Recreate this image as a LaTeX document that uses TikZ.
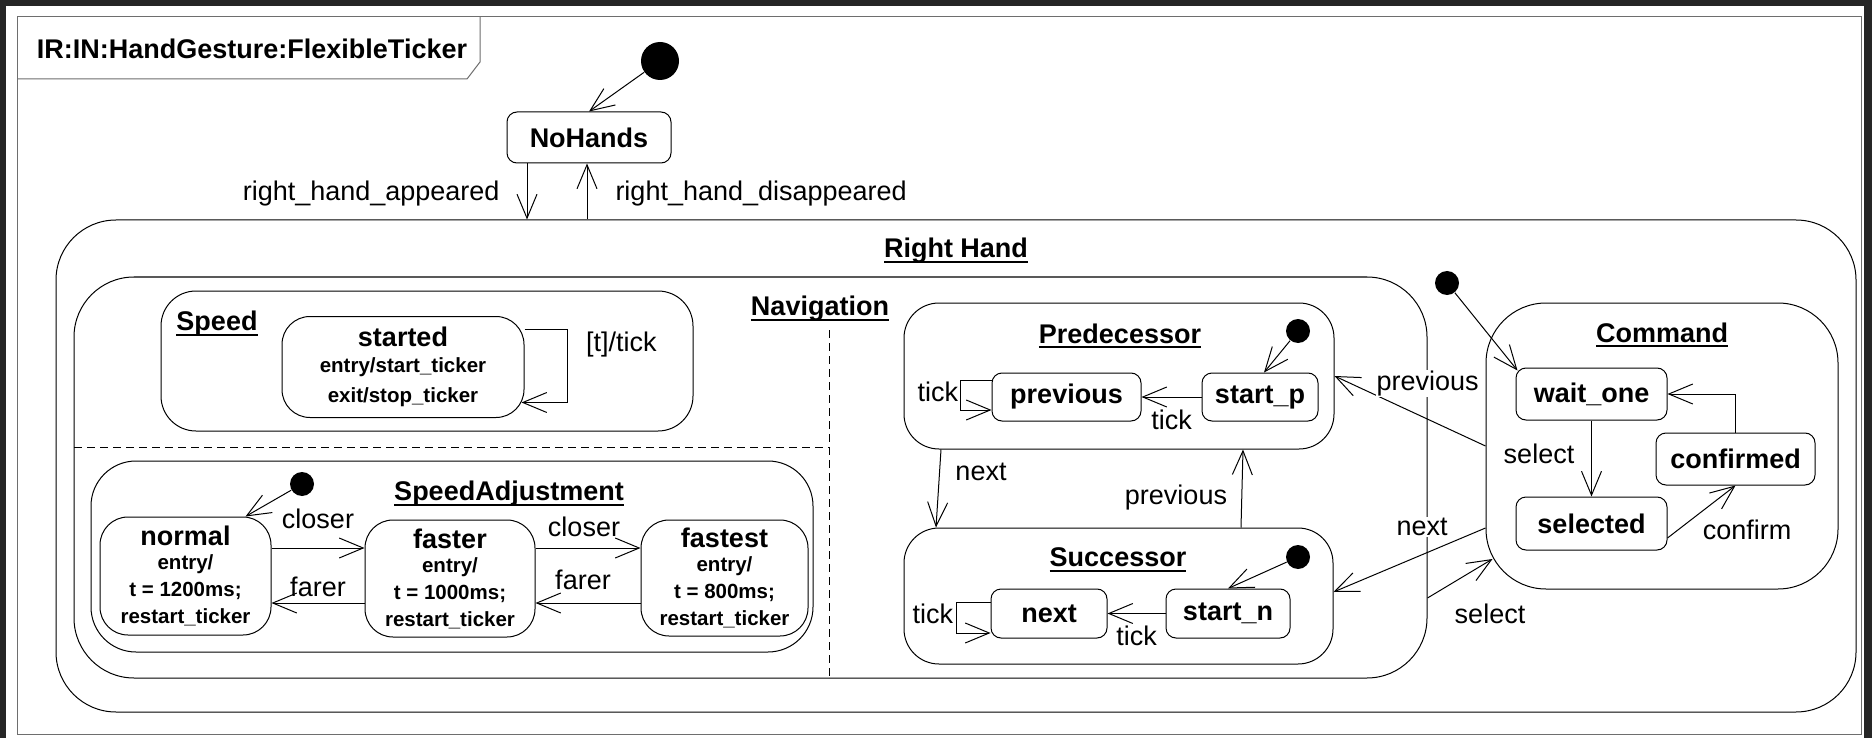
\documentclass[tikz,border=0pt]{standalone}
\usepackage{fontspec}
\setmainfont{Liberation Sans}
\usepackage{tikz}
\usetikzlibrary{arrows.meta, positioning, calc}
\definecolor{PageDark}{HTML}{262626}
\definecolor{FrameGray}{HTML}{6E6E6E}
\newcommand{\ulname}[1]{\sbox0{#1}\rlap{\usebox0}\rule[-5pt]{\wd0}{2.2pt}}
\newcommand{\stname}{\fontsize{27}{30}\selectfont}
\tikzset{
  cbox/.style={draw, rounded corners=#1, inner sep=0pt},
  cbox/.default=40pt,
  sbox/.style={draw, rounded corners=10pt, inner sep=2pt,
    font=\bfseries\fontsize{27}{30}\selectfont},
  tbox/.style={draw, rounded corners=28pt, inner sep=2pt, align=center,
    font=\bfseries\fontsize{20.5}{27}\selectfont},
  ctitle/.style={inner sep=1pt, yshift=-3pt, font=\bfseries\fontsize{27}{30}\selectfont},
  lbl/.style={inner sep=1pt, font=\fontsize{27}{30}\selectfont},
  idot/.style={circle, fill=black, inner sep=0pt, minimum size=24pt},
  flow/.style={-{Straight Barb[length=24pt, width=20pt]}, line width=1pt},
  region/.style={dash pattern=on 8pt off 5pt, line width=1pt},
}

\begin{document}
\begin{tikzpicture}[x=1pt, y=-1pt, line width=1pt]
  \useasboundingbox (0,0) rectangle (1872,738);
  \fill[PageDark] (0,0) rectangle (1872,738);
  \fill[white] (6,6) rectangle (1864,738);
  \draw[FrameGray] (17,17) rectangle (1861,734);
  \draw[FrameGray] (17,79) -- (467,79) -- (480,62) -- (480,17);
  \node[ctitle, yshift=2pt] (frametitle) at (252,48) {IR:IN:HandGesture:FlexibleTicker};

  % top level
  \node[idot, minimum size=38pt] (topinit) at (660,61) {};
  \node[sbox, minimum width=164pt, minimum height=51pt] (nohands) at (589,137.5) {NoHands};
  \node[cbox=60pt, minimum width=1800pt, minimum height=492pt] (righthand) at (956,466) {};
  \node[ctitle] (rhtitle) at (956,248) {\ulname{Right Hand}};
  \draw[flow] (topinit) -- (nohands.north);
  \draw[flow] ([xshift=-62pt]nohands.south) -- node[lbl, left=26pt, yshift=-2pt] (lappeared) {right\_hand\_appeared} ([xshift=-429pt]righthand.north);
  \draw[flow] ([xshift=-369pt]righthand.north) -- node[lbl, right=27pt, yshift=-2pt] (ldisappeared) {right\_hand\_disappeared} ([xshift=-2pt]nohands.south);

  % navigation region
  \node[cbox=60pt, minimum width=1353pt, minimum height=401pt] (navigation) at (750.5,477.5) {};
  \node[ctitle] (navtitle) at (820,306) {\ulname{Navigation}};
  \draw[region] (829,330) -- (829,678);
  \draw[region] (74,447) -- (829,447);

  % speed
  \node[cbox=35pt, minimum width=532pt, minimum height=140pt] (speed) at (427,361) {};
  \node[ctitle] (speedtitle) at (217,321) {\ulname{Speed}};
  \node[tbox, font=\bfseries\fontsize{20.5}{30}\selectfont, minimum width=242pt, minimum height=101pt] (started) at (403,367)
    {{\stname started}\\[-4pt]entry/start\_ticker\\exit/stop\_ticker};
  \draw[flow] ([yshift=37.5pt]started.east) -- ++(43,0) |- node[lbl, pos=0.1, right=17pt] (ltick) {[t]/tick} ([xshift=-3pt, yshift=-35.5pt]started.east);

  % speed adjustment
  \node[cbox=45pt, minimum width=722pt, minimum height=191pt] (speedadj) at (452,556.5) {};
  \node[ctitle] (satitle) at (509,491) {\ulname{SpeedAdjustment}};
  \node[idot] (sainit) at (302,484) {};
  \node[tbox, minimum width=171pt, minimum height=118pt] (normal) at (185.5,576)
    {{\stname normal}\\[-3pt]entry/\\t = 1200ms;\\restart\_ticker};
  \node[tbox, minimum width=170pt, minimum height=117pt] (faster) at (450,578.5)
    {{\stname faster}\\[-3pt]entry/\\t = 1000ms;\\restart\_ticker};
  \node[tbox, minimum width=167pt, minimum height=116pt] (fastest) at (724.5,578)
    {{\stname fastest}\\[-3pt]entry/\\t = 800ms;\\restart\_ticker};
  \draw[flow] (sainit) -- ([xshift=-26pt]normal.north east);
  \draw[flow] ([yshift=28pt]normal.east) -- node[lbl, yshift=29pt] (lcloser) {closer} ([yshift=30.5pt]faster.west);
  \draw[flow] ([yshift=30.5pt]faster.east) -- node[lbl, xshift=-4pt, yshift=21pt] (lcloserb) {closer} ([yshift=30pt]fastest.west);
  \draw[flow] ([yshift=-24.5pt]faster.west) -- node[lbl, yshift=16pt] (lfarer) {farer} ([yshift=-27pt]normal.east);
  \draw[flow] ([yshift=-25pt]fastest.west) -- node[lbl, xshift=-5pt, yshift=23pt] (lfarerb) {farer} ([yshift=-24.5pt]faster.east);

  % predecessor
  \node[cbox=35pt, minimum width=430pt, minimum height=146pt] (pred) at (1119,376) {};
  \node[ctitle] (predtitle) at (1120,333) {\ulname{Predecessor}};
  \node[idot] (predinit) at (1298,331) {};
  \node[sbox, minimum width=149pt, minimum height=48pt] (prevst) at (1066.5,397) {previous};
  \node[sbox, minimum width=116pt, minimum height=48pt] (startp) at (1260,397) {start\_p};
  \draw[flow] (predinit) -- ([xshift=4pt]startp.north);
  \draw[flow] (startp.west) -- node[lbl, yshift=-23pt] (ltickp) {tick} (prevst.east);
  \draw[flow] ([yshift=17pt]prevst.west) -- ++(-31,0) |- node[lbl, pos=0.2, anchor=east, xshift=-1pt] (lloopp) {tick} ([yshift=-13pt]prevst.west);

  % successor
  \node[cbox=35pt, minimum width=429pt, minimum height=136pt] (succ) at (1118.5,596) {};
  \node[ctitle] (succtitle) at (1118,557) {\ulname{Successor}};
  \node[idot] (succinit) at (1298,557) {};
  \node[sbox, minimum width=116pt, minimum height=49pt] (nextst) at (1049,613.5) {next};
  \node[sbox, minimum width=124pt, minimum height=49pt] (startn) at (1228,613.5) {start\_n};
  \draw[flow] (succinit) -- (startn.north);
  \draw[flow] (startn.west) -- node[lbl, yshift=-22.5pt] (ltickn) {tick} (nextst.east);
  \draw[flow] ([yshift=11.5pt]nextst.west) -- ++(-34,0) |- node[lbl, pos=0.19, anchor=east, xshift=-2pt] (lloopn) {tick} ([yshift=-19.5pt]nextst.west);

  \draw[flow] ([xshift=-178pt]pred.south) -- node[lbl, xshift=42.5pt, yshift=16.5pt] (lnext) {next} ([xshift=-182.5pt]succ.north);
  \draw[flow] ([xshift=122.5pt]succ.north) -- node[lbl, xshift=-66pt, yshift=-9.5pt] (lprev) {previous} ([xshift=124pt]pred.south);

  % command
  \node[cbox=60pt, minimum width=352pt, minimum height=286pt] (command) at (1662,446) {};
  \node[ctitle] (cmdtitle) at (1662,332) {\ulname{Command}};
  \node[idot] (cmdinit) at (1447,283) {};
  \node[sbox, minimum width=151pt, minimum height=52pt] (waitone) at (1591.5,394) {wait\_one};
  \node[sbox, minimum width=159pt, minimum height=52pt] (confirmed) at (1735.5,459) {confirmed};
  \node[sbox, minimum width=151pt, minimum height=53pt] (selected) at (1591.5,523.5) {selected};
  \draw[flow] (cmdinit) -- ([shift={(2,3)}]waitone.north west);
  \draw[flow] (waitone.south) -- node[lbl, xshift=-52.5pt, yshift=4.5pt] (lselect) {select} (selected.north);
  \draw[flow] ([yshift=-14.5pt]selected.east) -- node[lbl, xshift=45.5pt, yshift=-18.5pt] (lconfirm) {confirm} (confirmed.south);
  \draw[flow] (confirmed.north) |- (waitone.east);

  \draw[flow] (command.west) -- node[lbl, fill=white, pos=0.384, yshift=36pt] (lprevc) {previous} (pred.east);
  \draw[flow] ([yshift=-82pt]command.west) -- node[lbl, fill=white, pos=0.417, yshift=28pt] (lnextc) {next} ([yshift=4pt]succ.east);
  \draw[flow] ([yshift=-120.5pt]navigation.east) -- node[lbl, xshift=30pt, yshift=-35.5pt] (lselectc) {select} ([shift={(7,113)}]command.west);
\end{tikzpicture}
\end{document}
